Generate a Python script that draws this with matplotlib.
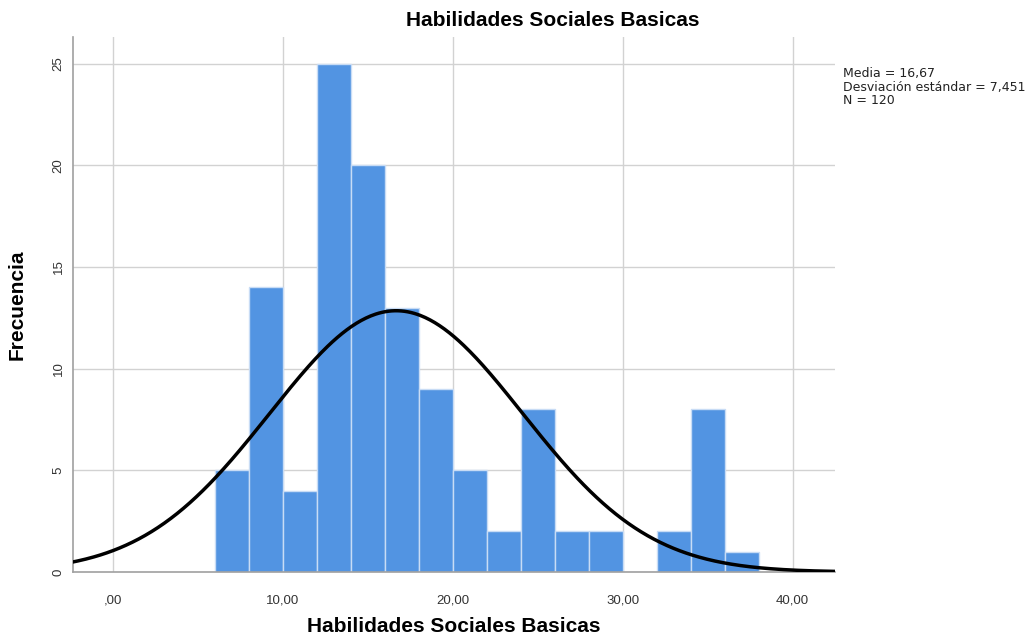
import numpy as np
import matplotlib
matplotlib.use("Agg")
import matplotlib.pyplot as plt

plt.rcParams['font.family'] = ['Liberation Sans', 'DejaVu Sans']

bin_edges = [6, 8, 10, 12, 14, 16, 18, 20, 22, 24, 26, 28, 30, 32, 34, 36, 38]
counts = [5, 14, 4, 25, 20, 13, 9, 5, 2, 8, 2, 2, 0, 2, 8, 1]
mean = 16.67
std = 7.451
n = 120
xticks = [0, 10, 20, 30, 40]
xticklabels = [",00", "10,00", "20,00", "30,00", "40,00"]
yticks = [0, 5, 10, 15, 20, 25]

fig = plt.figure(figsize=(10.35, 6.42), dpi=100)
ax = fig.add_axes([0.0705, 0.109, 0.7363, 0.833])

grid_c = '#d2d2d2'
for xt in xticks:
    ax.axvline(xt, color=grid_c, lw=1.0, zorder=0)
for yt in yticks[1:]:
    ax.axhline(yt, color=grid_c, lw=1.0, zorder=0)

lefts = bin_edges[:-1]
widths = np.diff(bin_edges)
ax.bar(lefts, counts, width=widths, align='edge', color='#5294e2',
       edgecolor='#c8dcf5', linewidth=1.0, zorder=2)

bw = 2
xs = np.linspace(-3, 44, 500)
ys = n * bw / (std * np.sqrt(2 * np.pi)) * np.exp(-0.5 * ((xs - mean) / std) ** 2)
ax.plot(xs, ys, color='black', lw=2.5, zorder=3)

ax.set_xlim(-2.35, 42.5)
ax.set_ylim(0, 26.3)
ax.set_xticks(xticks)
ax.set_xticklabels(xticklabels)
ax.set_yticks(yticks)
ax.set_yticklabels([str(v) for v in yticks], rotation=90, va='center')
ax.tick_params(axis='both', length=0, labelsize=9.5, colors='#333333')
ax.tick_params(axis='x', pad=16)
ax.tick_params(axis='y', pad=6)
for s in ['top', 'right']:
    ax.spines[s].set_visible(False)
for s in ['left', 'bottom']:
    ax.spines[s].set_color('#a0a0a0')
    ax.spines[s].set_linewidth(1.2)

ax.set_title("Habilidades Sociales Basicas", fontsize=15, fontweight='bold', pad=8, x=0.629)
ax.set_xlabel("Habilidades Sociales Basicas", fontsize=15, fontweight='bold', labelpad=8)
ax.set_ylabel("Frecuencia", fontsize=15, fontweight='bold', labelpad=19)

fig.text(0.8145, 0.895, "Media = 16,67\nDesviación estándar = 7,451\nN = 120",
         fontsize=9, va='top', ha='left', linespacing=1.05, color='#222222',
         family=['DejaVu Sans'])

fig.savefig("out.png", dpi=100)
